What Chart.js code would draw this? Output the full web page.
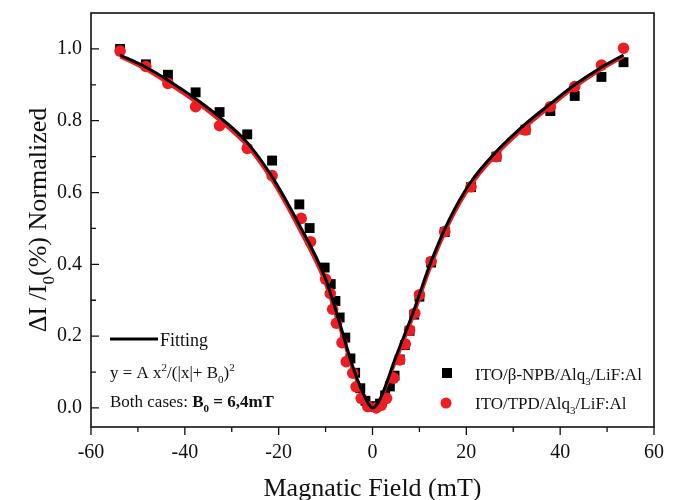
<!DOCTYPE html>
<html>
<head>
<meta charset="utf-8">
<script src="https://cdn.jsdelivr.net/npm/chart.js@4.4.0/dist/chart.umd.min.js"></script>
<style>
  html, body { margin: 0; padding: 0; background: #fff; }
</style>
</head>
<body>
<canvas id="mfeChart" width="679" height="500"></canvas>
<script>
// ITO/beta-NPB/Alq3/LiF:Al (black squares)
const npbX = [-53.8, -48.3, -43.6, -37.7, -32.6, -26.7, -21.4, -15.6, -13.4, -10.2, -8.9, -7.9, -7.0, -5.8, -4.7, -3.7, -2.6, -1.5, -0.5, 0.6, 1.6, 2.7, 3.7, 4.7, 5.8, 6.9, 7.9, 8.9, 10.0, 12.5, 15.4, 21.0, 26.4, 32.6, 37.9, 43.1, 48.8, 53.5];
const npbY = [1.0, 0.957, 0.928, 0.879, 0.824, 0.762, 0.689, 0.567, 0.501, 0.391, 0.345, 0.298, 0.252, 0.196, 0.138, 0.098, 0.055, 0.02, 0.005, 0.003, 0.012, 0.035, 0.06, 0.09, 0.135, 0.175, 0.215, 0.26, 0.31, 0.405, 0.49, 0.615, 0.70, 0.775, 0.827, 0.869, 0.922, 0.963];

// ITO/TPD/Alq3/LiF:Al (red circles)
const tpdX = [-53.8, -48.3, -43.6, -37.7, -32.6, -26.7, -21.4, -15.2, -13.2, -10.0, -9.0, -8.5, -7.7, -6.5, -5.6, -4.2, -3.5, -2.4, -1.0, 0.8, 1.9, 3.0, 4.5, 5.8, 7.0, 7.9, 9.0, 10.0, 12.5, 15.4, 21.0, 26.4, 32.6, 37.9, 43.1, 48.8, 53.5];
const tpdY = [0.994, 0.951, 0.904, 0.839, 0.786, 0.723, 0.647, 0.528, 0.463, 0.359, 0.319, 0.275, 0.236, 0.182, 0.129, 0.097, 0.059, 0.027, 0.004, 0.0, 0.008, 0.027, 0.083, 0.134, 0.178, 0.217, 0.264, 0.315, 0.408, 0.491, 0.616, 0.700, 0.774, 0.839, 0.895, 0.955, 1.002];

// fitted curves
const fitX = [-53.8, -48.3, -43.6, -37.7, -32.6, -26.7, -21.4, -15.6, -10.2, -7.0, -4.2, -1.3, 0, 1.5, 5.0, 8.6, 12.2, 16.4, 21.0, 26.4, 32.6, 37.9, 43.1, 48.8, 53.5];
const fitBlackY = [0.983, 0.949, 0.913, 0.861, 0.81, 0.739, 0.644, 0.51, 0.366, 0.237, 0.115, 0.022, 0.0, 0.022, 0.143, 0.264, 0.398, 0.526, 0.63, 0.714, 0.791, 0.847, 0.9, 0.949, 0.983];
const fitRedY = [0.978, 0.942, 0.904, 0.852, 0.8, 0.729, 0.633, 0.497, 0.352, 0.225, 0.105, 0.018, 0.0, 0.018, 0.132, 0.252, 0.386, 0.515, 0.62, 0.705, 0.782, 0.839, 0.893, 0.943, 0.978];

const xTicks = [-60, -40, -20, 0, 20, 40, 60];
const xMinor = [-50, -30, -10, 10, 30, 50];
const yTicks = [0.0, 0.2, 0.4, 0.6, 0.8, 1.0];
const yMinor = [0.1, 0.3, 0.5, 0.7, 0.9];

const RED = 'rgb(236, 30, 36)';
const SERIF = '"Liberation Serif", "Times New Roman", serif';

function toPoints(xs, ys) {
    return xs.map((x, i) => ({ x: x, y: ys[i] }));
}

// draw text with sub/superscripts; kinds: '', 'sub', 'sup', 'b', 'bsub'
function richText(ctx, x, y, parts, size, align) {
    const fontFor = k => {
        const bold = k.startsWith('b') ? 'bold ' : '';
        const small = k.endsWith('sub') || k.endsWith('sup');
        return bold + (small ? Math.round(size * 0.65) : size) + 'px ' + SERIF;
    };
    let w = 0;
    parts.forEach(p => { ctx.font = fontFor(p[1]); w += ctx.measureText(p[0]).width; });
    let cx = align === 'center' ? x - w / 2 : x;
    ctx.textAlign = 'left';
    ctx.textBaseline = 'alphabetic';
    parts.forEach(p => {
        ctx.font = fontFor(p[1]);
        const dy = p[1].endsWith('sub') ? size * 0.3 : (p[1].endsWith('sup') ? -size * 0.42 : 0);
        ctx.fillText(p[0], cx, y + dy);
        cx += ctx.measureText(p[0]).width;
    });
}

const framePlugin = {
    id: 'frame',
    afterDraw(chart) {
        const ctx = chart.ctx;
        const { left, right, top, bottom } = chart.chartArea;
        const xs = chart.scales.x, ys = chart.scales.y;
        ctx.save();
        ctx.strokeStyle = '#111';
        ctx.lineWidth = 1.6;
        ctx.strokeRect(left, top, right - left, bottom - top);

        ctx.lineWidth = 1.3;
        ctx.beginPath();
        yTicks.forEach(v => { const p = ys.getPixelForValue(v); ctx.moveTo(left, p); ctx.lineTo(left + 8, p); });
        yMinor.forEach(v => { const p = ys.getPixelForValue(v); ctx.moveTo(left, p); ctx.lineTo(left + 5, p); });
        xTicks.forEach(v => { const p = xs.getPixelForValue(v); ctx.moveTo(p, bottom); ctx.lineTo(p, bottom + 8); });
        xMinor.forEach(v => { const p = xs.getPixelForValue(v); ctx.moveTo(p, bottom); ctx.lineTo(p, bottom + 5); });
        ctx.stroke();

        ctx.fillStyle = '#111';
        // axis titles
        richText(ctx, (left + right) / 2, 496, [['Magnatic Field (mT)', '']], 26, 'center');
        ctx.save();
        ctx.translate(46, (top + bottom) / 2);
        ctx.rotate(-Math.PI / 2);
        richText(ctx, 0, 0, [['\u0394I /I', ''], ['0', 'sub'], ['(%) Normalized', '']], 26, 'center');
        ctx.restore();

        // fit annotation
        ctx.strokeStyle = '#000';
        ctx.lineWidth = 3;
        ctx.beginPath();
        ctx.moveTo(110, 339);
        ctx.lineTo(158, 339);
        ctx.stroke();
        richText(ctx, 160, 346, [['Fitting', '']], 18);
        richText(ctx, 110, 378, [['y = A x', ''], ['2', 'sup'], ['/(|x|+ B', ''], ['0', 'sub'], [')', ''], ['2', 'sup']], 17);
        richText(ctx, 110, 407, [['Both cases: ', ''], ['B', 'b'], ['0', 'bsub'], [' = 6,4mT', 'b']], 17);

        // series legend
        ctx.fillStyle = '#000';
        ctx.fillRect(442, 368, 10, 10);
        ctx.fillStyle = RED;
        ctx.beginPath();
        ctx.arc(446, 403, 5.5, 0, Math.PI * 2);
        ctx.fill();
        ctx.fillStyle = '#111';
        richText(ctx, 475, 380, [['ITO/\u03b2-NPB/Alq', ''], ['3', 'sub'], ['/LiF:Al', '']], 17);
        richText(ctx, 475, 409, [['ITO/TPD/Alq', ''], ['3', 'sub'], ['/LiF:Al', '']], 17);
        ctx.restore();
    }
};

function noPad(s) {
    s.paddingTop = 0;
    s.paddingBottom = 0;
    s.paddingLeft = 0;
    s.paddingRight = 0;
}

const ctx = document.getElementById('mfeChart').getContext('2d');
const mfeChart = new Chart(ctx, {
    type: 'scatter',
    data: {
        datasets: [
            {
                label: 'Fitting',
                data: toPoints(fitX, fitBlackY),
                showLine: true,
                borderColor: '#000',
                borderWidth: 3,
                pointRadius: 0,
                cubicInterpolationMode: 'monotone',
                order: 0
            },
            {
                label: 'Fitting TPD',
                data: toPoints(fitX, fitRedY),
                showLine: true,
                borderColor: RED,
                borderWidth: 3,
                pointRadius: 0,
                cubicInterpolationMode: 'monotone',
                order: 1
            },
            {
                label: 'ITO/TPD/Alq3/LiF:Al',
                data: toPoints(tpdX, tpdY),
                pointStyle: 'circle',
                pointRadius: 5.8,
                backgroundColor: RED,
                borderWidth: 0,
                order: 2
            },
            {
                label: 'ITO/β-NPB/Alq3/LiF:Al',
                data: toPoints(npbX, npbY),
                pointStyle: 'rect',
                pointRadius: 7,
                backgroundColor: '#000',
                borderWidth: 0,
                order: 3
            }
        ]
    },
    options: {
        responsive: false,
        animation: false,
        layout: { padding: { left: 0, right: 25, top: 13, bottom: 0 } },
        plugins: {
            legend: { display: false },
            tooltip: { enabled: false }
        },
        scales: {
            x: {
                type: 'linear',
                min: -60,
                max: 60,
                grid: { display: false, drawTicks: false },
                border: { display: false },
                afterBuildTicks: s => { s.ticks = xTicks.map(v => ({ value: v })); },
                afterFit: s => { s.height = 73; noPad(s); },
                ticks: {
                    padding: 14,
                    autoSkip: false,
                    maxRotation: 0,
                    color: '#111',
                    font: { family: SERIF, size: 20 },
                    callback: v => String(v)
                }
            },
            y: {
                type: 'linear',
                min: -0.053,
                max: 1.1,
                grid: { display: false, drawTicks: false },
                border: { display: false },
                afterBuildTicks: s => { s.ticks = yTicks.map(v => ({ value: v })); },
                afterFit: s => { s.width = 91; noPad(s); },
                ticks: {
                    padding: 9,
                    autoSkip: false,
                    color: '#111',
                    font: { family: SERIF, size: 20 },
                    callback: v => v.toFixed(1)
                }
            }
        }
    },
    plugins: [framePlugin]
});
</script>
</body>
</html>
